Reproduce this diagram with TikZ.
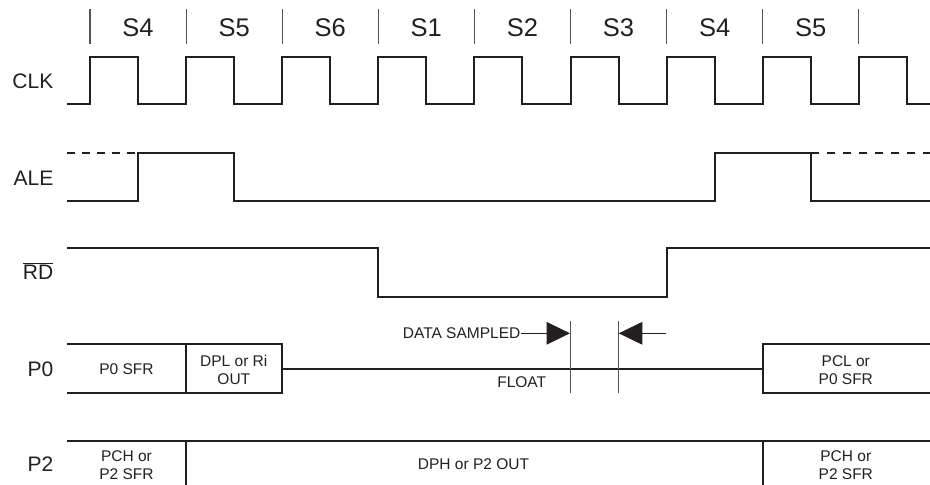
\documentclass[tikz,border=0pt]{standalone}
\usepackage{fontspec}
\setmainfont{Liberation Sans}
\usetikzlibrary{arrows.meta}
\definecolor{ink}{HTML}{231F20}
\definecolor{gridgray}{HTML}{555555}
\begin{document}
\begin{tikzpicture}[x=1pt,y=-1pt,
  sig/.style={line width=2pt, draw=ink, line join=miter},
  divline/.style={line width=1.1pt, draw=gridgray},
  samp/.style={line width=1.1pt, draw=gridgray},
  statelab/.style={font=\fontsize{25.5}{30}\selectfont, text=ink, inner sep=0pt, anchor=base},
  siglab/.style={font=\fontsize{21}{25}\selectfont, text=ink, anchor=base east, inner sep=0pt},
  small/.style={font=\fontsize{15.5}{18.5}\selectfont, text=ink, align=center, inner sep=0pt},
  tip/.style={-{Triangle[length=23.5pt,width=22.6pt]}, line width=1.1pt, draw=ink, fill=ink}]
\useasboundingbox (0,0) rectangle (930,485);

% state dividers and labels
\foreach \k in {0,...,8}
  \draw[divline] ({90+96.1*\k},9) -- ({90+96.1*\k},44);
\foreach \k/\s in {0/S4,1/S5,2/S6,3/S1,4/S2,5/S3,6/S4,7/S5}
  \node[statelab] (st\k) at ({138+96.1*\k},36.7) {\s};

% signal names
\node[siglab] (clk) at (53.5,88.3) {CLK};
\node[siglab] (ale) at (53.5,185) {ALE};
\node[siglab] (rd) at (53.5,279.3) {$\overline{\mbox{RD}}$};
\node[siglab] (p0) at (53.5,376.7) {P0};
\node[siglab] (p2) at (53.5,471.5) {P2};

% CLK
\draw[sig] (66.7,104) \foreach \k in {0,...,8} { -- ({90+96.1*\k},104) -- ++(0,-46.7) -- ++(48,0) -- ++(0,46.7) } -- (930,104);

% ALE
\draw[sig] (66.7,200.7) -- (138,200.7) -- (138,152.7) -- (234.1,152.7) -- (234.1,200.7)
  -- (714.6,200.7) -- (714.6,152.7) -- (810.7,152.7) -- (810.7,200.7) -- (930,200.7);
\draw[sig, dash pattern=on 8pt off 7pt] (66.7,152.7) -- (138,152.7);
\draw[sig, dash pattern=on 8pt off 8pt] (810.7,152.7) -- (930,152.7);

% RD
\draw[sig] (66.7,248.3) -- (378.3,248.3) -- (378.3,296.7) -- (666.6,296.7) -- (666.6,248.3) -- (930,248.3);

% P0
\draw[sig] (66.7,344.3) -- (282.2,344.3) -- (282.2,393.3) -- (66.7,393.3);
\draw[sig] (186.1,344.3) -- (186.1,393.3);
\draw[sig] (282.2,369) -- (762.7,369);
\draw[sig] (930,344.3) -- (762.7,344.3) -- (762.7,393.3) -- (930,393.3);
\node[small] (p0sfr) at (126.5,369) {P0 SFR};
\node[small] (dpl) at (233.8,370) {DPL or Ri\\OUT};
\node[small] (float) at (521.7,382) {FLOAT};
\node[small] (pcl) at (845.8,370) {PCL or\\P0 SFR};

% data sampled window
\coordinate (sa1) at (570.5,321);
\coordinate (sb1) at (570.5,392.7);
\coordinate (sa2) at (618.3,321);
\coordinate (sb2) at (618.3,392.7);
\draw[samp] (sa1) -- (sb1);
\draw[samp] (sa2) -- (sb2);
\node[small, anchor=east] (ds) at (520.5,333.3) {DATA SAMPLED};
\coordinate (ta) at (570,333.3);
\coordinate (tb) at (618.8,333.3);
\coordinate (tc) at (666,333.3);
\draw[tip] (ds.east) -- (ta);
\draw[tip] (tc) -- (tb);

% P2
\draw[sig] (66.7,441) -- (930,441);
\draw[sig] (186.1,441) -- (186.1,486);
\draw[sig] (762.7,441) -- (762.7,486);
\node[small] (pch1) at (126.5,465) {PCH or\\P2 SFR};
\node[small] (dph) at (473.5,464) {DPH or P2 OUT};
\node[small] (pch2) at (845.8,465) {PCH or\\P2 SFR};
\end{tikzpicture}
\end{document}
